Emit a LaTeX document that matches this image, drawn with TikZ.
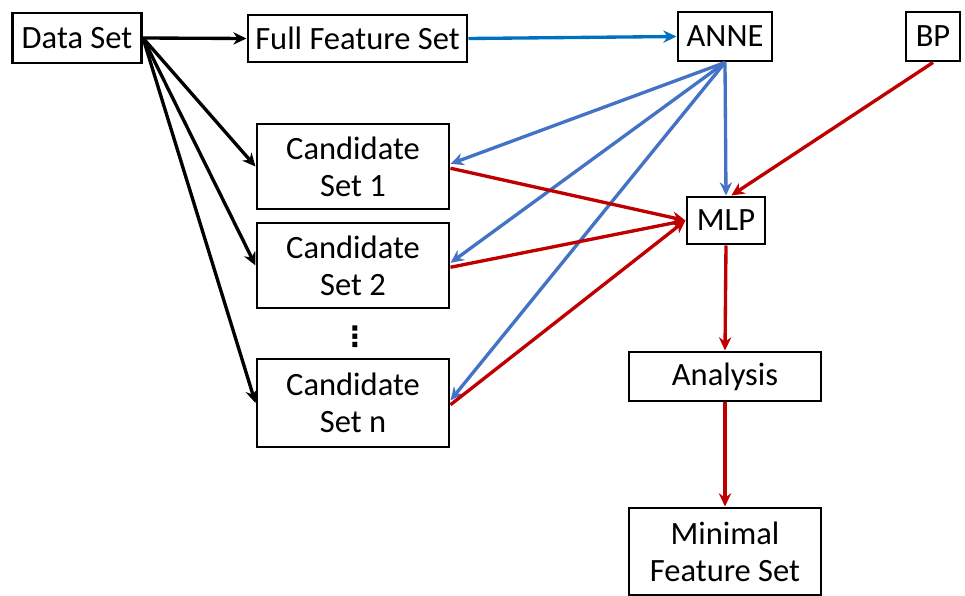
\documentclass[tikz,border=0pt]{standalone}
\usepackage{fontspec}
\setmainfont{Carlito}
\newfontfamily\symfont{DejaVu Sans}
\usepackage{xcolor}
\usepackage{tikz}
\usetikzlibrary{positioning}
\usetikzlibrary{arrows.meta, calc}
\definecolor{featblue}{HTML}{0070C0}
\definecolor{annblue}{HTML}{4472C4}
\definecolor{mlpred}{HTML}{C00000}
\tikzstyle{block} = [draw=black, line width=1.7pt, inner sep=0pt, align=center, font=\fontsize{18.5}{21}\selectfont]
\tikzstyle{arrow} = [line width=1.9pt,-{Stealth[length=7.5pt,width=7pt]}]

\begin{document}
\begin{tikzpicture}
\useasboundingbox (0,0) rectangle (19.3,-11.92);
\node (data) [block, minimum width=2.58cm, minimum height=1cm] at (1.54,-0.76) {Data Set};
\node (full) [block, minimum width=4.38cm, minimum height=0.94cm] at (7.15,-0.77) {Full Feature Set};
\node (anne) [block, minimum width=1.88cm, minimum height=0.98cm] at (14.5,-0.73) {ANNE};
\node (bp) [block, minimum width=1.08cm, minimum height=0.98cm] at (18.66,-0.73) {BP};
\node (cand1) [block, minimum width=3.84cm, minimum height=1.7cm] at (7.06,-3.33) {Candidate\\Set 1};
\node (cand2) [block, minimum width=3.84cm, minimum height=1.7cm] at (7.06,-5.31) {Candidate\\Set 2};
\node (dots) at (7.1,-6.74) {\symfont\bfseries\fontsize{16}{18}\selectfont ⋮};
\node (candn) [block, minimum width=3.84cm, minimum height=1.76cm] at (7.06,-8.06) {Candidate\\Set n};
\node (mlp) [block, minimum width=1.56cm, minimum height=0.94cm] at (14.52,-4.41) {MLP};
\node (analysis) [block, minimum width=3.84cm, minimum height=0.98cm] at (14.5,-7.53) {Analysis};
\node (minimal) [block, minimum width=3.84cm, minimum height=1.74cm] at (14.5,-11.03) {Minimal\\Feature Set};
% data set fan
\draw[arrow] (data.east) -- (full.west);
\draw[arrow] (data.east) -- (cand1.west);
\draw[arrow] (data.east) -- (cand2.west);
\draw[arrow] (data.east) -- (candn.west);
% ANNE
\draw[arrow, draw=featblue, fill=featblue] (full.east) -- (anne.west);
\draw[arrow, draw=annblue, fill=annblue] (anne.south) -- ([yshift=1.5pt]cand1.east);
\draw[arrow, draw=annblue, fill=annblue] (anne.south) -- ([yshift=1.5pt]cand2.east);
\draw[arrow, draw=annblue, fill=annblue] (anne.south) -- ([yshift=1.5pt]candn.east);
\draw[arrow, draw=annblue, fill=annblue] (anne.south) -- (mlp.north);
% MLP
\draw[arrow, draw=mlpred, fill=mlpred] (bp.south) -- ([xshift=3pt]mlp.north);
\draw[arrow, draw=mlpred, fill=mlpred] ([yshift=-1pt]cand1.east) -- (mlp.west);
\draw[arrow, draw=mlpred, fill=mlpred] ([yshift=-1pt]cand2.east) -- (mlp.west);
\draw[arrow, draw=mlpred, fill=mlpred] ([yshift=-1pt]candn.east) -- (mlp.west);
\draw[arrow, draw=mlpred, fill=mlpred] (mlp.south) -- (analysis.north);
\draw[arrow, draw=mlpred, fill=mlpred] (analysis.south) -- (minimal.north);
\end{tikzpicture}
\end{document}
